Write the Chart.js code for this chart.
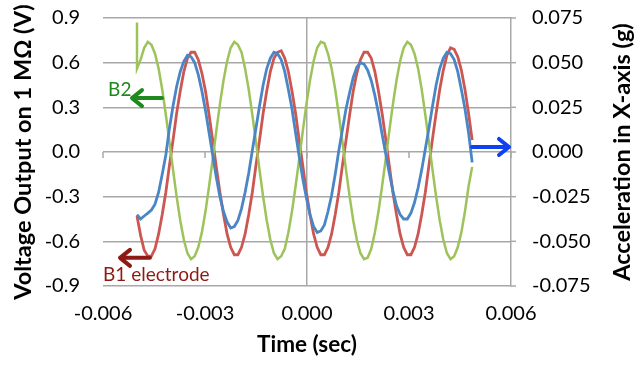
<!DOCTYPE html>
<html>
<head>
<meta charset="utf-8">
<script src="https://cdn.jsdelivr.net/npm/chart.js@4/dist/chart.umd.min.js"></script>
<style>
  html, body { margin: 0; padding: 0; background: #fff; }
  #wrap { width: 644px; height: 365px; position: relative; }
</style>
</head>
<body>
<div id="wrap"><canvas id="c" width="644" height="365"></canvas></div>
<script>
// ---- Data ----
const times = [
 -0.005000,-0.004894,-0.004788,-0.004682,-0.004576,-0.004470,-0.004364,-0.004258,-0.004152,-0.004046,
 -0.003940,-0.003834,-0.003728,-0.003622,-0.003516,-0.003410,-0.003304,-0.003198,-0.003092,-0.002986,
 -0.002880,-0.002774,-0.002668,-0.002562,-0.002456,-0.002350,-0.002244,-0.002138,-0.002032,-0.001926,
 -0.001820,-0.001714,-0.001608,-0.001502,-0.001396,-0.001290,-0.001184,-0.001078,-0.000972,-0.000866,
 -0.000760,-0.000654,-0.000548,-0.000442,-0.000336,-0.000230,-0.000124,-0.000018, 0.000088, 0.000194,
  0.000300, 0.000406, 0.000512, 0.000618, 0.000724, 0.000830, 0.000936, 0.001042, 0.001148, 0.001254,
  0.001360, 0.001466, 0.001572, 0.001678, 0.001784, 0.001890, 0.001996, 0.002102, 0.002208, 0.002314,
  0.002420, 0.002526, 0.002632, 0.002738, 0.002844, 0.002950, 0.003056, 0.003162, 0.003268, 0.003374,
  0.003480, 0.003586, 0.003692, 0.003798, 0.003904, 0.004010, 0.004116, 0.004222, 0.004328, 0.004434,
  0.004540, 0.004646, 0.004752, 0.004858
];

// B1 electrode voltage (V), left axis
const b1Voltage = [
 -0.43,-0.56,-0.66,-0.70,-0.70,-0.65,-0.55,-0.42,-0.27,-0.09, 0.08, 0.26, 0.41, 0.54, 0.63, 0.67, 0.67, 0.62, 0.53, 0.41,
  0.25, 0.08,-0.10,-0.27,-0.42,-0.55,-0.64,-0.69,-0.69,-0.64,-0.55,-0.42,-0.27,-0.09, 0.08, 0.26, 0.41, 0.54, 0.63, 0.67,
  0.68, 0.63, 0.54, 0.41, 0.26, 0.08,-0.09,-0.27,-0.42,-0.55,-0.64,-0.69,-0.69,-0.64,-0.55,-0.42,-0.27,-0.09, 0.08, 0.25,
  0.41, 0.53, 0.62, 0.67, 0.67, 0.63, 0.54, 0.41, 0.26, 0.09,-0.09,-0.27,-0.42,-0.55,-0.64,-0.69,-0.69,-0.64,-0.55,-0.42,
 -0.27,-0.09, 0.09, 0.26, 0.42, 0.55, 0.65, 0.70, 0.69, 0.64, 0.55, 0.42, 0.26, 0.08
];

// B2 voltage (V), left axis
const b2Voltage = [
  0.56, 0.62, 0.70, 0.74, 0.72, 0.66, 0.56, 0.42, 0.25, 0.07,-0.12,-0.30,-0.46,-0.59,-0.68,-0.72,-0.70,-0.64,-0.54,-0.40,
 -0.23,-0.05, 0.14, 0.32, 0.48, 0.61, 0.70, 0.74, 0.72, 0.67, 0.56, 0.42, 0.25, 0.07,-0.12,-0.30,-0.46,-0.59,-0.68,-0.72,
 -0.70,-0.65,-0.54,-0.40,-0.23,-0.05, 0.14, 0.32, 0.48, 0.61, 0.70, 0.74, 0.73, 0.66, 0.56, 0.42, 0.25, 0.07,-0.12,-0.30,
 -0.46,-0.59,-0.68,-0.72,-0.71,-0.65,-0.54,-0.40,-0.23,-0.05, 0.14, 0.32, 0.48, 0.61, 0.70, 0.74, 0.72, 0.66, 0.56, 0.42,
  0.25, 0.07,-0.12,-0.30,-0.46,-0.59,-0.68,-0.72,-0.70,-0.64,-0.54,-0.40,-0.23,-0.10
];
// initial switching spike of B2 at the first time sample
const b2SpikeTime = -0.005000;
const b2SpikeValue = 0.87;

// Acceleration in X-axis (g), right axis
const accelX = [
 -0.0350,-0.0375,-0.0358,-0.0342,-0.0325,-0.0292,-0.0225,-0.0125,-0.0017, 0.0133,
  0.0258, 0.0367, 0.0450, 0.0508, 0.0542, 0.0533, 0.0500, 0.0433, 0.0342, 0.0233,
  0.0108,-0.0017,-0.0142,-0.0250,-0.0333,-0.0392,-0.0425,-0.0417,-0.0383,-0.0317,
 -0.0225,-0.0117, 0.0008, 0.0133, 0.0258, 0.0375, 0.0467, 0.0525, 0.0558, 0.0550,
  0.0517, 0.0450, 0.0350, 0.0242, 0.0108,-0.0025,-0.0150,-0.0258,-0.0350,-0.0417,
 -0.0450,-0.0442,-0.0408,-0.0333,-0.0242,-0.0125, 0.0008, 0.0125, 0.0242, 0.0333,
  0.0417, 0.0475, 0.0500, 0.0492, 0.0458, 0.0400, 0.0317, 0.0217, 0.0100,-0.0008,
 -0.0117,-0.0217,-0.0300,-0.0350,-0.0375,-0.0375,-0.0342,-0.0283,-0.0200,-0.0100,
  0.0017, 0.0133, 0.0258, 0.0375, 0.0467, 0.0525, 0.0558, 0.0550, 0.0517, 0.0450,
  0.0350, 0.0242, 0.0108,-0.0058
];

// Axis tick settings
const xTickMin = -0.006, xTickMax = 0.006, xTickStep = 0.003;
const yTickMin = -0.9, yTickMax = 0.9, yTickStep = 0.3;
const y2TickMin = -0.075, y2TickMax = 0.075, y2TickStep = 0.025;
const rightTitle = 'Acceleration in X-axis (g)';

// Annotations (anchored in data space: time, left-axis voltage)
const noteTexts  = ['B2', 'B1 electrode'];
const noteTimes  = [-0.00585, -0.0060];
const noteValues = [0.416, -0.825];
const noteColors = ['#1e8a1e', '#8e1a14'];
// arrows: [tailTime, headTime, value(left axis)]
const arrowTail  = [-0.004265, -0.004618, 0.004853];
const arrowHead  = [-0.005147, -0.005500, 0.005941];
const arrowValue = [0.362, -0.711, 0.034];
const arrowColors = ['#1e8a1e', '#8e1a14', '#1040f0'];

// ---- Build chart ----
const toXY = (vals) => vals.map((v, i) => ({ x: times[i], y: v }));
const b2Points = [{ x: b2SpikeTime, y: b2SpikeValue }].concat(toXY(b2Voltage));

const GRID = '#a8a8a8';
const CLEAR = 'rgba(0,0,0,0)';
const FONT = 'Lato, "Open Sans", sans-serif';

const annotPlugin = {
  id: 'annot',
  beforeDatasetsDraw(chart) {
    const ctx = chart.ctx, xs = chart.scales.x, ys = chart.scales.y, y2 = chart.scales.y2;
    const y0 = ys.getPixelForValue(0);
    ctx.save();
    ctx.strokeStyle = GRID;
    ctx.lineWidth = 1.5;
    // small tick marks below the zero-crossing time axis
    xs.ticks.forEach(t => {
      const px = xs.getPixelForValue(t.value);
      ctx.beginPath();
      ctx.moveTo(px, y0);
      ctx.lineTo(px, y0 + 6);
      ctx.stroke();
    });
    // outward tick marks on the right axis
    y2.ticks.forEach(t => {
      const py = y2.getPixelForValue(t.value);
      ctx.beginPath();
      ctx.moveTo(y2.left, py);
      ctx.lineTo(y2.left + 5, py);
      ctx.stroke();
    });
    ctx.restore();
  },
  afterDatasetsDraw(chart) {
    const ctx = chart.ctx, xs = chart.scales.x, ys = chart.scales.y;
    ctx.save();
    ctx.font = '19px ' + FONT;
    ctx.textBaseline = 'middle';
    ctx.textAlign = 'left';
    noteTexts.forEach((txt, i) => {
      ctx.fillStyle = noteColors[i];
      ctx.fillText(txt, xs.getPixelForValue(noteTimes[i]), ys.getPixelForValue(noteValues[i]));
    });
    arrowTail.forEach((tt, i) => {
      const x1 = xs.getPixelForValue(tt), x2 = xs.getPixelForValue(arrowHead[i]);
      const y = ys.getPixelForValue(arrowValue[i]);
      const dir = Math.sign(x2 - x1);
      ctx.strokeStyle = arrowColors[i];
      ctx.lineWidth = 4;
      ctx.lineCap = 'round';
      ctx.lineJoin = 'round';
      ctx.beginPath();
      ctx.moveTo(x1, y);
      ctx.lineTo(x2, y);
      ctx.moveTo(x2 - dir * 10, y - 8);
      ctx.lineTo(x2, y);
      ctx.lineTo(x2 - dir * 10, y + 8);
      ctx.stroke();
    });
    ctx.restore();
  },
  afterDraw(chart) {
    // right axis title, reading bottom-to-top as in the reference
    const ctx = chart.ctx, s = chart.scales.y2, area = chart.chartArea;
    ctx.save();
    ctx.font = 'bold 23.5px ' + FONT;
    ctx.fillStyle = '#000';
    ctx.textAlign = 'center';
    ctx.textBaseline = 'middle';
    ctx.translate(s.right - 22, (area.top + area.bottom) / 2);
    ctx.rotate(-Math.PI / 2);
    ctx.fillText(rightTitle, 0, 0);
    ctx.restore();
  }
};

new Chart(document.getElementById('c'), {
  type: 'line',
  data: {
    datasets: [
      { label: 'Acceleration', data: toXY(accelX), yAxisID: 'y2', borderColor: '#4a86c6', borderWidth: 2.8, pointRadius: 0, tension: 0, order: 0 },
      { label: 'B2', data: b2Points, yAxisID: 'y', borderColor: '#9dc35a', borderWidth: 2.5, pointRadius: 0, tension: 0, order: 1 },
      { label: 'B1 electrode', data: toXY(b1Voltage), yAxisID: 'y', borderColor: '#cc5652', borderWidth: 2.8, pointRadius: 0, tension: 0, order: 2 }
    ]
  },
  options: {
    responsive: false,
    animation: false,
    layout: { padding: { top: 18, left: 0, right: 0, bottom: 0 } },
    plugins: { legend: { display: false }, tooltip: { enabled: false } },
    scales: {
      x: {
        type: 'linear',
        position: 'bottom',
        min: xTickMin, max: xTickMax,
        afterFit: s => { s.height = 79; },
        ticks: { stepSize: xTickStep, color: '#000', font: { family: FONT, size: 20 }, padding: 0, maxRotation: 0,
                 callback: v => Number(v).toFixed(3) },
        grid: { color: c => (Math.abs(c.tick.value) < 1e-12 ? GRID : CLEAR), lineWidth: 1.5,
                drawTicks: true, tickLength: 16, tickColor: CLEAR },
        border: { display: false },
        title: { display: true, text: 'Time (sec)', color: '#000', font: { family: FONT, size: 22.5, weight: 'bold' }, padding: { top: 0, bottom: 7 } }
      },
      y: {
        position: 'left',
        min: yTickMin, max: yTickMax,
        afterFit: s => { s.width = 103; },
        ticks: { stepSize: yTickStep, color: '#000', font: { family: FONT, size: 20 }, padding: 0,
                 callback: v => Number(v).toFixed(1) },
        grid: { color: GRID, lineWidth: 1.5, drawTicks: true, tickLength: 23, tickColor: CLEAR },
        border: { display: false },
        title: { display: true, text: 'Voltage Output on 1 MΩ (V)', color: '#000', font: { family: FONT, size: 23.5, weight: 'bold' }, padding: { top: 9, bottom: 0 } }
      },
      y2: {
        position: 'right',
        min: y2TickMin, max: y2TickMax,
        afterFit: s => { s.width = 133; },
        ticks: { stepSize: y2TickStep, color: '#000', font: { family: FONT, size: 20 }, padding: 0,
                 callback: v => Number(v).toFixed(3) },
        grid: { drawOnChartArea: false, color: GRID, lineWidth: 1.5, drawTicks: true, tickLength: 21, tickColor: CLEAR },
        border: { display: true, color: GRID, width: 1.5 },
        title: { display: false }
      }
    }
  },
  plugins: [annotPlugin]
});
</script>
</body>
</html>
